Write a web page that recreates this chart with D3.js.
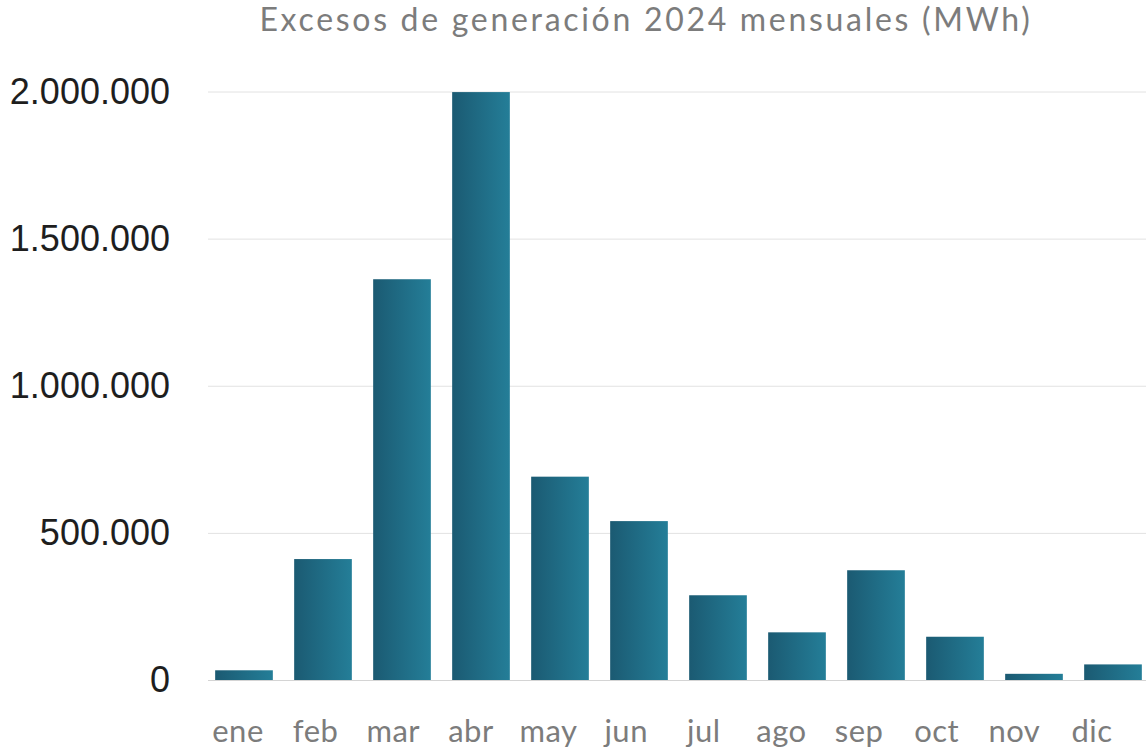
<!DOCTYPE html>
<html>
<head>
<meta charset="utf-8">
<script src="https://cdn.jsdelivr.net/npm/d3@7"></script>
<style>
  html, body { margin: 0; padding: 0; background: #fff; }
  svg { display: block; }
</style>
</head>
<body>
<svg id="chart" width="1146" height="750"></svg>
<script>
// Monthly generation surplus, 2024 (MWh)
const months = ["ene", "feb", "mar", "abr", "may", "jun", "jul", "ago", "sep", "oct", "nov", "dic"];
const excesos = [33000, 411000, 1362000, 1998000, 691000, 540000, 288000, 162000, 373000, 147000, 21000, 53000];
const yTicks = [0, 500000, 1000000, 1500000, 2000000];
const title = "Excesos de generación 2024 mensuales (MWh)";

const W = 1146, H = 750;
const svg = d3.select("#chart");

const x = d3.scaleBand()
  .domain(months)
  .range([204.5, 1152.5])
  .paddingInner(0.27)
  .paddingOuter(0.135);

// month labels sit on a slightly tighter spacing than the bars
const xLabel = d3.scalePoint()
  .domain(months)
  .range([238, 1092]);

const y = d3.scaleLinear()
  .domain([0, 2000000])
  .range([680, 91.5]);

const es = d3.formatLocale({ decimal: ",", thousands: ".", grouping: [3], currency: ["", " €"] });
const fmt = es.format(",d");

// horizontal bar gradient
const defs = svg.append("defs");
const grad = defs.append("linearGradient")
  .attr("id", "barGrad")
  .attr("x1", "0").attr("y1", "0").attr("x2", "1").attr("y2", "0");
grad.append("stop").attr("offset", "0%").attr("stop-color", "#1b5a72");
grad.append("stop").attr("offset", "100%").attr("stop-color", "#247e98");

// title
svg.append("text")
  .attr("x", 646)
  .attr("y", 31)
  .attr("text-anchor", "middle")
  .attr("font-family", "Lato, 'Open Sans', sans-serif")
  .attr("font-size", 32)
  .attr("letter-spacing", 2.7)
  .attr("fill", "#7c7c7c")
  .text(title);

// y axis with gridlines
const yAxis = d3.axisLeft(y)
  .tickValues(yTicks)
  .tickSize(-(W - 208))
  .tickPadding(38)
  .tickFormat(fmt);

const gy = svg.append("g")
  .attr("transform", "translate(208,0)")
  .call(yAxis);
gy.select(".domain").remove();
gy.selectAll(".tick line")
  .attr("stroke", d => d === 0 ? "#d4d4d4" : "#e2e2e2")
  .attr("stroke-width", 1);
gy.selectAll(".tick text")
  .attr("font-family", "'Liberation Sans', Arial, sans-serif")
  .attr("font-size", 36)
  .attr("fill", "#1e1e1e");

// bars
svg.append("g")
  .selectAll("rect")
  .data(months.map((m, i) => ({ m, v: excesos[i] })))
  .join("rect")
  .attr("x", d => x(d.m))
  .attr("y", d => y(d.v))
  .attr("width", x.bandwidth())
  .attr("height", d => y(0) - y(d.v))
  .attr("fill", "url(#barGrad)");

// month labels
svg.append("g")
  .selectAll("text")
  .data(months)
  .join("text")
  .attr("x", d => xLabel(d))
  .attr("y", 742)
  .attr("text-anchor", "middle")
  .attr("font-family", "Lato, 'Open Sans', sans-serif")
  .attr("font-size", 31)
  .attr("letter-spacing", 0.5)
  .attr("fill", "#7c7c7c")
  .text(d => d);
</script>
</body>
</html>
